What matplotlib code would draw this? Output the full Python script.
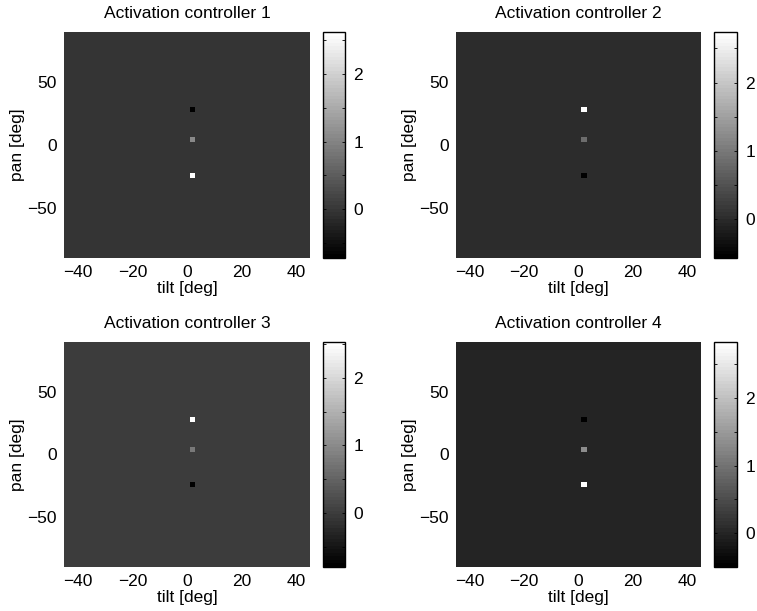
import matplotlib

matplotlib.use('Agg')

import matplotlib.pyplot as plt
import matplotlib.ticker as mticker
import numpy as np

plt.rcParams['font.family'] = ['Liberation Sans', 'DejaVu Sans']
plt.rcParams['font.size'] = 12.5

# grid of the activation maps (cell centres, deg)
tilt = np.arange(-44, 45, 2)
pan = np.arange(-88, 89, 4)

titles = ['Activation controller 1', 'Activation controller 2',
          'Activation controller 3', 'Activation controller 4']

# the three active cells, all at tilt = 2 deg
spot_tilt = 2
spot_pan = [28, 4, -24]

# values of the three cells (top, middle, bottom) per controller
spot_values = [[-0.72, 1.09, 2.62],
               [2.74, 0.86, -0.57],
               [2.53, 0.79, -0.80],
               [-0.50, 1.33, 2.83]]
background = [0.0, 0.0, 0.0, 0.0]


def make_map(ic):
    z = np.full((len(pan), len(tilt)), background[ic])
    ix = np.argmin(np.abs(tilt - spot_tilt))
    for p, v in zip(spot_pan, spot_values[ic]):
        iy = np.argmin(np.abs(pan - p))
        z[iy, ix] = v
    return z


W, H = 757., 611.
# axes boxes in pixels: left, right, top, bottom
ax_box = [(64, 310, 32, 258), (456, 701, 32, 258),
          (64, 310, 342, 567), (456, 701, 342, 567)]
cb_box = [(323, 345), (714, 737), (323, 345), (714, 737)]

fig = plt.figure(figsize=(W / 100, H / 100), dpi=100)
cmap = plt.get_cmap('gray', 64)

for ic in range(4):
    l, r, t, b = ax_box[ic]
    ax = fig.add_axes([l / W, (H - b) / H, (r - l) / W, (b - t) / H])
    z = make_map(ic)
    dx = tilt[1] - tilt[0]
    dy = pan[1] - pan[0]
    img = ax.imshow(z, cmap=cmap, origin='lower', aspect='auto',
                    interpolation='nearest',
                    extent=[tilt[0] - dx / 2, tilt[-1] + dx / 2,
                            pan[0] - dy / 2, pan[-1] + dy / 2])
    ax.set_xticks([-40, -20, 0, 20, 40])
    ax.set_yticks([-50, 0, 50])
    ax.tick_params(length=0, pad=5)
    for s in ax.spines.values():
        s.set_visible(False)
    ax.set_xlabel('tilt [deg]', labelpad=1)
    ax.set_ylabel('pan [deg]', labelpad=2)
    ax.set_title(titles[ic], fontsize=12.5, pad=10)

    cl, cr = cb_box[ic]
    cax = fig.add_axes([cl / W, (H - b) / H, (cr - cl) / W, (b - t) / H])
    cb = fig.colorbar(img, cax=cax)
    cb.set_ticks([0, 1, 2])
    cax.yaxis.set_minor_locator(mticker.MultipleLocator(0.5))
    cax.yaxis.set_ticks_position('both')
    cax.tick_params(which='both', direction='in', length=2.5, width=0.6,
                    labelleft=False, labelright=True, pad=6)
    cb.outline.set_linewidth(1.0)

fig.savefig('out.png', dpi=100)
